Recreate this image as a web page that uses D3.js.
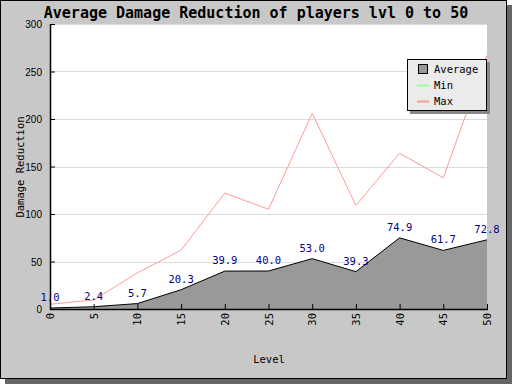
<!DOCTYPE html>
<html>
<head>
<meta charset="utf-8">
<script src="https://cdn.jsdelivr.net/npm/d3@7"></script>
<style>
  body { margin: 0; background: #fff; }
  svg { display: block; }
  text { font-family: "DejaVu Sans Mono", monospace; }
</style>
</head>
<body>
<svg width="512" height="384"></svg>
<script>
'use strict';

const levels = [0, 5, 10, 15, 20, 25, 30, 35, 40, 45, 50];
const avgValues = [1.0, 2.4, 5.7, 20.3, 39.9, 40.0, 53.0, 39.3, 74.9, 61.7, 72.8];
const minValues = [0, 0, 0, 0, 0, 0, 0, 0, 0, 0, 0];
const maxValues = [5, 9.5, 38, 62, 122, 105, 206, 109, 164, 138, 267];
const yTicks = [0, 50, 100, 150, 200, 250, 300];
const seriesNames = ["Average", "Min", "Max"];

const svg = d3.select("svg");
const plot = {left: 50, right: 487, top: 24, bottom: 309};

// frame + shadow
svg.append("rect").attr("x", 5).attr("y", 5).attr("width", 507).attr("height", 379).attr("fill", "#666");
svg.append("rect").attr("x", 0.5).attr("y", 0.5).attr("width", 506).attr("height", 378)
  .attr("fill", "#c8c8c8").attr("stroke", "#000");

const x = d3.scaleLinear().domain([0, 50]).range([plot.left, plot.right]);
const y = d3.scaleLinear().domain([0, 300]).range([plot.bottom, plot.top]);

svg.append("rect")
  .attr("x", plot.left).attr("y", plot.top)
  .attr("width", plot.right - plot.left).attr("height", plot.bottom - plot.top)
  .attr("fill", "#fff");

// grid
svg.append("g").selectAll("line").data(yTicks.filter(d => d > 0)).join("line")
  .attr("x1", plot.left).attr("x2", plot.right)
  .attr("y1", d => Math.round(y(d)) + 0.5).attr("y2", d => Math.round(y(d)) + 0.5)
  .attr("stroke", "#dcdcdc");

const rows = levels.map((l, i) => ({l, avg: avgValues[i], min: minValues[i], max: maxValues[i]}));

svg.append("path").datum(rows)
  .attr("fill", "none").attr("stroke", "#99ff99")
  .attr("d", d3.line().x(d => x(d.l)).y(d => y(d.min)));

svg.append("path").datum(rows)
  .attr("fill", "#999").attr("stroke", "none")
  .attr("d", d3.area().x(d => x(d.l)).y0(y(0)).y1(d => y(d.avg)));
svg.append("path").datum(rows)
  .attr("fill", "none").attr("stroke", "#000")
  .attr("d", d3.line().x(d => x(d.l)).y(d => y(d.avg)));

svg.append("path").datum(rows)
  .attr("fill", "none").attr("stroke", "#ff9999")
  .attr("d", d3.line().x(d => x(d.l)).y(d => y(d.max)));

// value labels
svg.append("g").selectAll("text").data(rows).join("text")
  .attr("x", d => x(d.l)).attr("y", d => y(d.avg) - 7)
  .attr("text-anchor", "middle").attr("font-size", 10.5).attr("fill", "#000088")
  .text(d => d.avg.toFixed(1));

// axes
const yAxis = svg.append("g").attr("transform", `translate(${plot.left},0)`)
  .call(d3.axisRight(y).tickValues(yTicks).tickSize(5).tickFormat(""));
yAxis.select(".domain").remove();
svg.append("g").selectAll("text").data(yTicks).join("text")
  .attr("x", plot.left - 8).attr("y", d => y(d) + 4)
  .attr("text-anchor", "end").attr("font-size", 10)
  .style("font-family", "'Liberation Sans', Arial, sans-serif")
  .text(d => d);

const xAxis = svg.append("g").attr("transform", `translate(0,${plot.bottom})`)
  .call(d3.axisTop(x).tickValues(levels).tickSize(5).tickFormat(""));
xAxis.select(".domain").remove();
svg.append("g").selectAll("text").data(levels).join("text")
  .attr("transform", d => `translate(${x(d) + 4},${plot.bottom + 4}) rotate(-90)`)
  .attr("text-anchor", "end").attr("font-size", 10.5)
  .text(d => d);

svg.append("line").attr("x1", plot.left + 0.5).attr("x2", plot.left + 0.5)
  .attr("y1", plot.top).attr("y2", plot.bottom + 1).attr("stroke", "#000").attr("stroke-width", 1.5);
svg.append("line").attr("x1", plot.left).attr("x2", plot.right + 1)
  .attr("y1", plot.bottom + 0.5).attr("y2", plot.bottom + 0.5).attr("stroke", "#000").attr("stroke-width", 1.5);

// titles
svg.append("text").attr("x", 256).attr("y", 18).attr("text-anchor", "middle")
  .attr("font-size", 15).attr("font-weight", "bold").text("Average Damage Reduction of players lvl 0 to 50");
svg.append("text").attr("transform", "translate(24,167) rotate(-90)").attr("text-anchor", "middle")
  .attr("font-size", 10.5).text("Damage Reduction");
svg.append("text").attr("x", 269).attr("y", 363).attr("text-anchor", "middle")
  .attr("font-size", 10.5).text("Level");

// legend
const lg = svg.append("g").attr("transform", "translate(407,59)");
lg.append("rect").attr("x", 3).attr("y", 3).attr("width", 80).attr("height", 52).attr("fill", "#888");
lg.append("rect").attr("x", 0.5).attr("y", 0.5).attr("width", 79).attr("height", 51)
  .attr("fill", "#ebebeb").attr("stroke", "#000");
const colors = ["#999", "#99ff99", "#ff9999"];
seriesNames.forEach((name, i) => {
  const cy = 10 + i * 16;
  if (i === 0) {
    lg.append("rect").attr("x", 11.5).attr("y", cy - 4.5).attr("width", 9).attr("height", 9)
      .attr("fill", colors[i]).attr("stroke", "#000");
  } else {
    lg.append("line").attr("x1", 10).attr("x2", 22).attr("y1", cy + 0.5).attr("y2", cy + 0.5)
      .attr("stroke", colors[i]).attr("stroke-width", 2);
  }
  lg.append("text").attr("x", 27).attr("y", cy + 4).attr("font-size", 10.5).text(name);
});
</script>
</body>
</html>
